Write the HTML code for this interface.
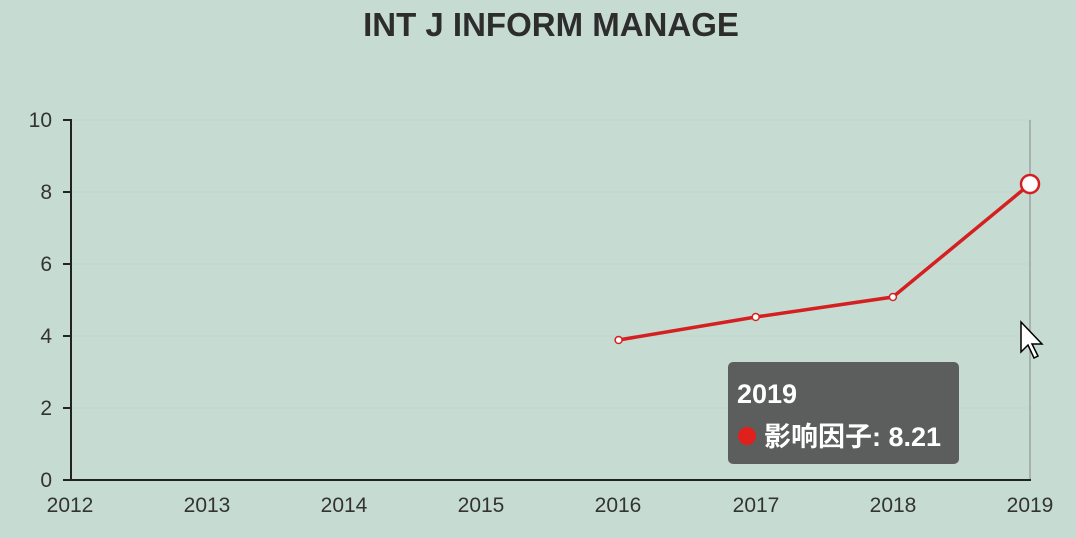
<!DOCTYPE html>
<html><head><meta charset="utf-8"><style>
body{margin:0;background:#c6dcd3;}
svg{display:block;font-family:"Liberation Sans","Noto Sans CJK SC",sans-serif;}
</style></head><body>
<svg width="1076" height="538" viewBox="0 0 1076 538">
<rect width="1076" height="538" fill="#c6dcd3"/>
<text x="551" y="36" text-anchor="middle" font-size="33" font-weight="bold" fill="#2d2d2d">INT J INFORM MANAGE</text>
<g stroke="#c0d6cd" stroke-width="1">
<line x1="71" y1="120" x2="1030" y2="120"/><line x1="71" y1="192" x2="1030" y2="192"/>
<line x1="71" y1="264" x2="1030" y2="264"/><line x1="71" y1="336" x2="1030" y2="336"/>
<line x1="71" y1="408" x2="1030" y2="408"/>
</g>
<line x1="1030" y1="120" x2="1030" y2="480" stroke="#888" stroke-width="1"/>
<g stroke="#222" stroke-width="2">
<line x1="71" y1="119" x2="71" y2="481"/>
<line x1="70" y1="480" x2="1031" y2="480"/>
<line x1="63" y1="120" x2="71" y2="120"/><line x1="63" y1="192" x2="71" y2="192"/>
<line x1="63" y1="264" x2="71" y2="264"/><line x1="63" y1="336" x2="71" y2="336"/>
<line x1="63" y1="408" x2="71" y2="408"/><line x1="63" y1="480" x2="71" y2="480"/>
</g>
<g font-size="21" fill="#333" text-anchor="end">
<text x="52" y="127">10</text><text x="52" y="199">8</text><text x="52" y="271">6</text>
<text x="52" y="343">4</text><text x="52" y="415">2</text><text x="52" y="487">0</text>
</g>
<g font-size="21" fill="#333" text-anchor="middle">
<text x="70" y="512">2012</text><text x="207" y="512">2013</text><text x="344" y="512">2014</text>
<text x="481" y="512">2015</text><text x="618" y="512">2016</text><text x="756" y="512">2017</text>
<text x="893" y="512">2018</text><text x="1030" y="512">2019</text>
</g>
<polyline points="618.6,340 755.7,317 892.9,297 1030,184" fill="none" stroke="#d42020" stroke-width="3.5"/>
<g fill="#fff" stroke="#d42020" stroke-width="1.5">
<circle cx="618.6" cy="340" r="3.5"/><circle cx="755.7" cy="317" r="3.5"/><circle cx="892.9" cy="297" r="3.5"/>
<circle cx="1030" cy="184" r="9" stroke-width="2.5"/>
</g>
<rect x="728" y="362" width="231" height="102" rx="5" fill="#5b5e5c"/>
<text x="737" y="403" font-size="27" fill="#fff" font-weight="bold">2019</text>
<circle cx="747" cy="436" r="9" fill="#e0201c"/>
<text x="764" y="446" font-size="27" fill="#fff" font-weight="bold">影响因子: 8.21</text>
<path d="M1021 322 L1021 352 L1028 345 L1034 358 L1038 356 L1032 344 L1042 344 Z" fill="#fff" stroke="#000" stroke-width="1.5"/>
</svg>
</body></html>
